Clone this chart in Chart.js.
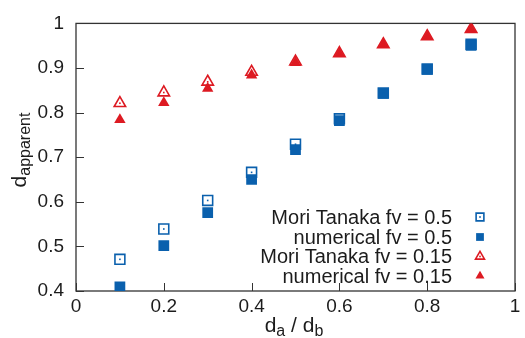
<!DOCTYPE html>
<html>
<head>
<meta charset="utf-8">
<script src="https://cdn.jsdelivr.net/npm/chart.js@4/dist/chart.umd.min.js"></script>
<style>
  html, body { margin: 0; padding: 0; background: #fff; }
  #wrap { width: 525px; height: 338px; }
</style>
</head>
<body>
<div id="wrap"><canvas id="chart" width="525" height="338"></canvas></div>
<script>
// values
const ratios = [0.1, 0.2, 0.3, 0.4, 0.5, 0.6, 0.7, 0.8, 0.9]
const moriTanaka05 = [0.471, 0.539, 0.603, 0.666, 0.729, 0.786, 0.844, 0.898, 0.953]
const numerical05 = [0.409, 0.502, 0.576, 0.650, 0.717, 0.782, 0.843, 0.897, 0.951]
const moriTanaka015 = [0.821, 0.845, 0.869, 0.891, 0.914, 0.933, 0.953, 0.971, 0.987]
const numerical015 = [0.784, 0.822, 0.854, 0.884, 0.912, 0.932, 0.952, 0.970, 0.986]
const legendLabels = ['Mori Tanaka fv = 0.5', 'numerical fv = 0.5', 'Mori Tanaka fv = 0.15', 'numerical fv = 0.15']

const BLUE = '#0a60ad'
const RED = '#dd1a22'
const INK = '#1c1c1c'
const FONT = '"Liberation Sans", Arial, Helvetica, sans-serif'

function points(ys) {
    return ratios.map((x, i) => ({ x: x, y: ys[i] }))
}

const series = [
    { label: legendLabels[0], data: points(moriTanaka05), pointStyle: 'rect', pointRadius: 7, pointBorderWidth: 1.6, pointBackgroundColor: 'rgba(255,255,255,0)', pointBorderColor: BLUE, open: true, legendRadius: 5.5 },
    { label: legendLabels[1], data: points(numerical05), pointStyle: 'rect', pointRadius: 7.6, pointBorderWidth: 0, pointBackgroundColor: BLUE, pointBorderColor: BLUE, legendRadius: 5.5 },
    { label: legendLabels[2], data: points(moriTanaka015), pointStyle: 'triangle', pointRadius: 6.6, pointBorderWidth: 1.6, pointBackgroundColor: 'rgba(255,255,255,0)', pointBorderColor: RED, open: true, legendRadius: 5.2 },
    { label: legendLabels[3], data: points(numerical015), pointStyle: 'triangle', pointRadius: 6.6, pointBorderWidth: 0, pointBackgroundColor: RED, pointBorderColor: RED, legendRadius: 5.2 },
]

// frame + inward ticks (left and bottom only)
const framePlugin = {
    id: 'frame',
    beforeDatasetsDraw(chart) {
        const ctx = chart.ctx, a = chart.chartArea
        ctx.save()
        ctx.strokeStyle = '#333'
        ctx.lineWidth = 1.3
        ctx.strokeRect(a.left, a.top, a.right - a.left, a.bottom - a.top)
        ctx.lineWidth = 1
        chart.scales.x.ticks.forEach(t => {
            const px = Math.round(chart.scales.x.getPixelForValue(t.value)) + 0.5
            ctx.beginPath(); ctx.moveTo(px, a.bottom); ctx.lineTo(px, a.bottom - 8); ctx.stroke()
        })
        chart.scales.y.ticks.forEach(t => {
            const py = Math.round(chart.scales.y.getPixelForValue(t.value)) + 0.5
            ctx.beginPath(); ctx.moveTo(a.left, py); ctx.lineTo(a.left + 8, py); ctx.stroke()
        })
        ctx.restore()
    }
}

function centerDot(ctx, x, y, color) {
    ctx.fillStyle = color
    ctx.fillRect(x - 0.8, y - 0.8, 1.6, 1.6)
}

// gnuplot-style titles with subscripts, and the legend in the lower right
const textPlugin = {
    id: 'texts',
    afterDatasetsDraw(chart) {
        const ctx = chart.ctx
        ctx.save()
        chart.data.datasets.forEach((ds, i) => {
            if (!ds.open) return
            chart.getDatasetMeta(i).data.forEach(el => centerDot(ctx, el.x, el.y, ds.pointBorderColor))
        })
        ctx.restore()
    },
    afterDraw(chart) {
        const ctx = chart.ctx
        const main = '21px ' + FONT, sub = '16px ' + FONT
        ctx.save()
        ctx.fillStyle = INK
        ctx.textBaseline = 'alphabetic'
        ctx.textAlign = 'left'

        // x title: d_a / d_b
        const parts = [['d', main, 0], ['a', sub, 4], [' / ', main, 0], ['d', main, 0], ['b', sub, 4]]
        let total = 0
        parts.forEach(p => { ctx.font = p[1]; total += ctx.measureText(p[0]).width })
        let x = 294 - total / 2
        parts.forEach(p => {
            ctx.font = p[1]
            ctx.fillText(p[0], x, 332 + p[2])
            x += ctx.measureText(p[0]).width
        })

        // y title: d_apparent
        ctx.save()
        ctx.translate(26, 150)
        ctx.rotate(-Math.PI / 2)
        ctx.font = main
        const wd = ctx.measureText('d').width
        ctx.font = sub
        const ws = ctx.measureText('apparent').width
        const sx = -(wd + ws) / 2
        ctx.font = main
        ctx.fillText('d', sx, 0)
        ctx.font = sub
        ctx.fillText('apparent', sx + wd, 4)
        ctx.restore()

        // legend
        const rowY = [217, 237, 256.5, 276]
        ctx.font = '20px ' + FONT
        ctx.textAlign = 'right'
        ctx.textBaseline = 'middle'
        chart.data.datasets.forEach((ds, i) => {
            ctx.fillStyle = INK
            ctx.fillText(ds.label, 452, rowY[i] + 1)
            ctx.fillStyle = ds.pointBackgroundColor
            ctx.strokeStyle = ds.pointBorderColor
            ctx.lineWidth = ds.pointBorderWidth || 0.01
            Chart.helpers.drawPoint(ctx, {
                pointStyle: ds.pointStyle,
                radius: ds.legendRadius,
                rotation: 0,
                borderWidth: ds.pointBorderWidth
            }, 480, rowY[i])
            if (ds.open) centerDot(ctx, 480, rowY[i], ds.pointBorderColor)
        })
        ctx.restore()
    }
}

new Chart(document.getElementById('chart'), {
    type: 'scatter',
    data: { datasets: series },
    options: {
        responsive: false,
        devicePixelRatio: 1,
        animation: false,
        layout: { padding: { top: 10, right: 10, left: 0, bottom: 0 } },
        plugins: { legend: { display: false }, tooltip: { enabled: false } },
        scales: {
            x: {
                type: 'linear',
                min: 0,
                max: 1,
                grid: { display: false, drawTicks: false },
                border: { display: false },
                ticks: {
                    stepSize: 0.2,
                    padding: 4,
                    color: INK,
                    font: { family: FONT, size: 19 },
                    maxRotation: 0,
                    callback: v => String(Math.round(v * 10) / 10)
                },
                afterFit: s => { s.height = 47 }
            },
            y: {
                type: 'linear',
                min: 0.4,
                max: 1,
                grid: { display: false, drawTicks: false },
                border: { display: false },
                ticks: {
                    stepSize: 0.1,
                    padding: 12,
                    color: INK,
                    font: { family: FONT, size: 19 },
                    callback: v => String(Math.round(v * 10) / 10)
                },
                afterFit: s => { s.width = 76 }
            }
        }
    },
    plugins: [framePlugin, textPlugin]
})
</script>
</body>
</html>
